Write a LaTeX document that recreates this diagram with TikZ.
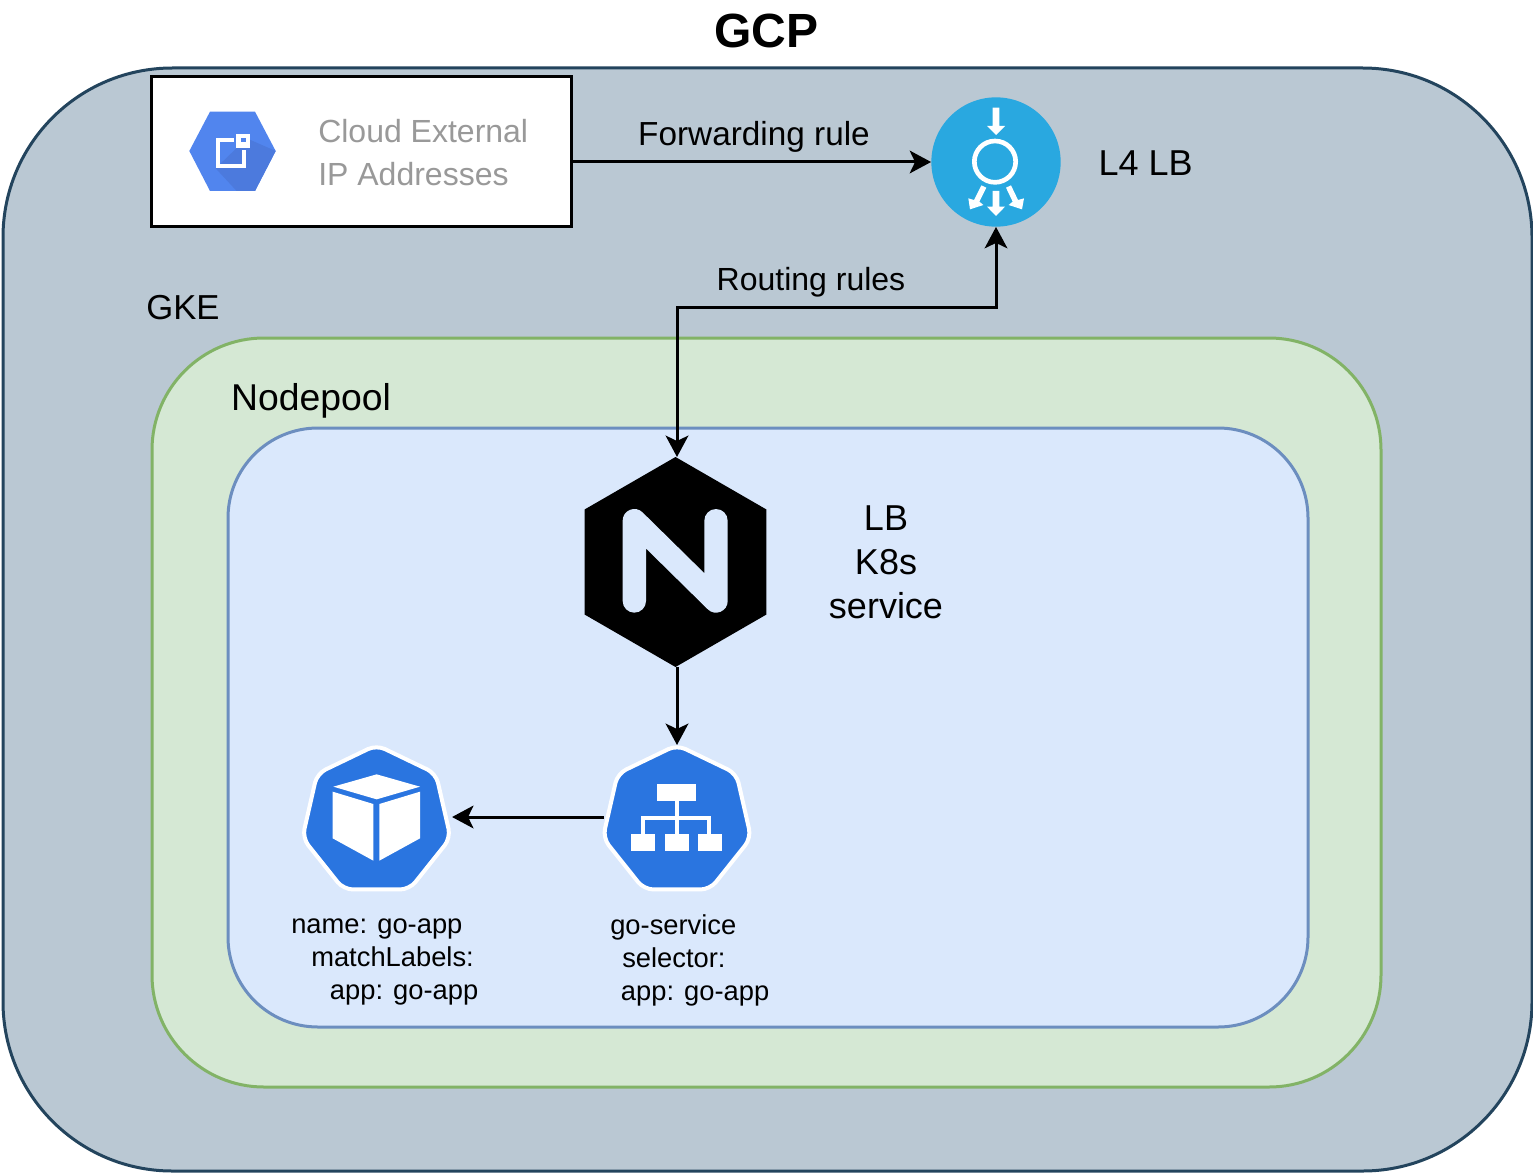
\documentclass[tikz,border=0pt]{standalone}
\usepackage{xcolor}
\usepackage{fontspec}
\setmainfont{Liberation Sans}
\usetikzlibrary{shapes.geometric, arrows.meta, positioning}
\definecolor{gcpfill}{HTML}{BAC8D3}
\definecolor{gcpline}{HTML}{23445D}
\definecolor{gkefill}{HTML}{D5E8D4}
\definecolor{gkeline}{HTML}{82B366}
\definecolor{poolfill}{HTML}{DAE8FC}
\definecolor{poolline}{HTML}{6C8EBF}
\definecolor{kubeblue}{HTML}{2A75E0}
\definecolor{lbblue}{HTML}{29A8E0}
\definecolor{ipblue}{HTML}{5185EE}
\definecolor{ipshade}{HTML}{4C7ADD}
\tikzset{
  area/.style={rectangle, line width=2.25pt, inner sep=0pt},
  gcpbox/.style={area, draw=gcpline, fill=gcpfill, minimum width=1146.75pt, minimum height=827.25pt, rounded corners=127pt},
  gkebox/.style={area, draw=gkeline, fill=gkefill, minimum width=921.75pt, minimum height=561.75pt, rounded corners=84pt},
  poolbox/.style={area, draw=poolline, fill=poolfill, minimum width=810pt, minimum height=449.25pt, rounded corners=67.5pt},
  ipbox/.style={rectangle, draw=black, fill=white, line width=2.25pt, minimum width=315pt, minimum height=112.5pt},
  kubeicon/.style={regular polygon, regular polygon sides=7, draw=white, fill=kubeblue, line width=3pt,
                   minimum size=114pt, inner sep=0pt, outer sep=0pt, rounded corners=7pt},
  nginxicon/.style={regular polygon, regular polygon sides=6, shape border rotate=30, fill=black,
                    minimum size=157.5pt, inner sep=0pt, outer sep=0pt},
  lbicon/.style={circle, fill=lbblue, minimum size=97pt, inner sep=0pt},
  arrow/.style={-{Stealth[length=16pt, width=17pt, inset=4pt]}, line width=2.25pt, color=black},
  biarrow/.style={arrow, {Stealth[length=16pt, width=17pt, inset=4pt]}-{Stealth[length=16pt, width=17pt, inset=4pt]}},
  label/.style={font=\fontsize{24}{30}\selectfont, inner sep=0pt},
  biglabel/.style={font=\fontsize{27}{33}\selectfont, align=center, inner sep=0pt},
  smalllabel/.style={font=\fontsize{20.5}{24.75}\selectfont, align=left, inner sep=0pt},
  iconpart/.style={x=0.25pt, y=-0.25pt},
}
\begin{document}
\begin{tikzpicture}[x=0.75pt, y=-0.75pt]
  \useasboundingbox (0,0) rectangle (1533,1173);

  \node[gcpbox]  (gcp)  at (767.5,619.5) {};
  \node[gkebox]  (gke)  at (766.5,712.5) {};
  \node[poolbox] (pool) at (768,727.5) {};
  \node[ipbox]   (ip)   at (361,151.5) {};
  \node[lbicon]  (l4lb) at (996,162) {};
  \node[nginxicon] (nginx)   at (675.5,562) {};
  \node[kubeicon]  (service) at (677,821) {};
  \node[kubeicon]  (pod)     at (376.5,821) {};
  \coordinate (route) at (0,307);

  \node[font=\fontsize{36}{40}\selectfont\bfseries, inner sep=0pt] (gcptitle) at (766,31) {GCP};
  \node[label, font=\fontsize{26}{30}\selectfont] (gkelabel) at (183,308) {GKE};
  \node[label, font=\fontsize{28}{30}\selectfont] (poollabel) at (311,401) {Nodepool};
  \node[label, font=\fontsize{27}{30}\selectfont, right=28pt of l4lb, yshift=-1pt] (lblabel) {L4 LB};
  \node[label, font=\fontsize{25}{30}\selectfont] (fwdlabel) at (754,137) {Forwarding rule};
  \node[label] (routelabel) at (811,282) {Routing rules};
  \node[label, text=black!40, align=left, anchor=north west, font=\fontsize{24}{32.25}\selectfont] (iplabel) at (318,119) {Cloud External\\IP Addresses};
  \node[biglabel] (nginxlabel) at (886,562) {LB\\K8s\\service};
  \node[smalllabel, anchor=north west] (podlabel) at (291,919) {name: go-app\\\hspace*{15pt}matchLabels:\\\hspace*{29pt}app: go-app};
  \node[smalllabel, anchor=north west] (servicelabel) at (610,914) {go-service\\\hspace*{9pt}selector:\\\hspace*{8pt}app: go-app};

  \begin{scope}[shift={(150,70)}, iconpart]
    \fill[ipblue] (118,243) -- (180,125) -- (315,125) -- (377,243) -- (315,363) -- (180,363) -- cycle;
    \fill[ipshade] (290,205) -- (377,243) -- (315,363) -- (260,363) -- (197,295) -- cycle;
    \draw[white, line width=3pt] (252,211) -- (203,211) -- (203,289) -- (282,289) -- (282,240);
    \fill[white] (258,192) rectangle (300,235);
    \fill[ipblue] (273,203) rectangle (288,215);
  \end{scope}

  \begin{scope}[shift={(920,90)}, iconpart]
    \draw[white, line width=3.5pt] (225,215) circle[radius=62*0.25pt];
    \fill[white] (218,53) -- (238,53) -- (238,108) -- (255,108) -- (228,135) -- (201,108) -- (218,108) -- cycle;
    \fill[white] (218,303) -- (238,303) -- (238,350) -- (255,350) -- (228,378) -- (201,350) -- (218,350) -- cycle;
    \fill[white] (184,286) -- (199,293) -- (178,335) -- (190,345) -- (150,358) -- (145,325) -- (162,330) -- cycle;
    \fill[white] (273,286) -- (258,293) -- (278,335) -- (266,345) -- (306,358) -- (312,325) -- (294,330) -- cycle;
  \end{scope}

  \begin{scope}[shift={(570,440)}, iconpart]
    \draw[poolfill, line width=17.5pt, line cap=round, line join=round] (193,483) -- (193,242) -- (438,483) -- (438,242);
  \end{scope}

  \begin{scope}[shift={(290,735)}, iconpart]
    \fill[white] (260,118) -- (390,155) -- (260,193) -- (130,155) -- cycle;
    \fill[white] (128,170) -- (250,207) -- (250,377) -- (128,310) -- cycle;
    \fill[white] (268,207) -- (390,170) -- (390,310) -- (268,377) -- cycle;
  \end{scope}

  \begin{scope}[shift={(590,735)}, iconpart]
    \fill[white] (202,147) rectangle (317,197);
    \fill[white] (124,297) rectangle (196,347);
    \fill[white] (224,297) rectangle (296,347);
    \fill[white] (323,297) rectangle (395,347);
    \draw[white, line width=3pt] (260,197) -- (260,297);
    \draw[white, line width=3pt] (160,297) -- (160,248) -- (358,248) -- (358,297);
  \end{scope}

  \draw[arrow] (ip.east |- l4lb.west) -- (l4lb.west);
  \draw[biarrow] (l4lb.south) -- (l4lb.south |- route) -- (service.north |- route) -- (service.north |- nginx.north);
  \draw[arrow] (service.north |- nginx.south) -- (service.north);
  \draw[arrow, shorten <=2pt, shorten >=4pt] ([yshift=3pt]service.west) -- ([yshift=3pt]pod.east);
\end{tikzpicture}
\end{document}
